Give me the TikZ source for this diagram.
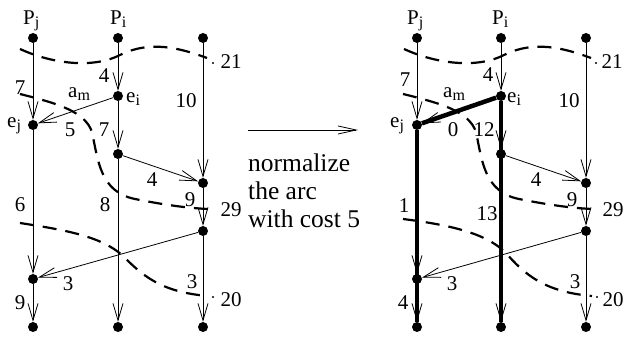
\documentclass[tikz,border=0pt]{standalone}
\usepackage{fontspec}
\setmainfont{Liberation Serif}
\usetikzlibrary{arrows.meta}
\newcommand{\evsub}[1]{\raisebox{-3pt}{\fontsize{16}{16}\selectfont #1}}

\begin{document}
\begin{tikzpicture}[x=1pt, y=-1pt,
  evt/.style={circle, fill, inner sep=0pt, minimum size=10pt},
  cutdot/.style={circle, fill, inner sep=0pt, minimum size=2.2pt},
  lbl/.style={inner sep=0pt, font=\fontsize{21}{21}\selectfont},
  evlbl/.style={lbl, anchor=base west},
  msg/.style={line width=0.8pt, line join=miter,
              -{Straight Barb[length=17pt,width=10pt]}},
  cut/.style={line width=2.2pt, dash pattern=on 14pt off 9pt},
  heavy/.style={line width=4.5pt}
]
  \useasboundingbox (0,0) rectangle (624,339);

  % left: before normalizing
  \draw[cut] (20,49) .. controls (55,65) and (95,68) .. (120,55)
    .. controls (150,40) and (180,48) .. (207,58);
  \draw[cut] (20,94) .. controls (60,104) and (85,112) .. (92,132)
    .. controls (98,160) and (100,192) .. (135,199)
    .. controls (160,204) and (185,208) .. (208,209);
  \draw[cut] (20,223) .. controls (65,230) and (100,236) .. (122,255)
    .. controls (142,275) and (160,292) .. (208,296);
  \node[cutdot] (Lk1) at (213,63) {};
  \node[cutdot] (Lk2) at (213,297) {};

  \node[evt] (Lt1) at (33,38) {};
  \node[evt] (Lt2) at (118,38) {};
  \node[evt] (Lt3) at (203,38) {};
  \node[evt] (Lej) at (33,125) {};
  \node[evt] (Lei) at (118,96) {};
  \node[evt] (Lb) at (118,154) {};
  \node[evt] (Lc) at (203,183) {};
  \node[evt] (Ld) at (203,231) {};
  \node[evt] (Le) at (33,279) {};
  \node[evt] (Lz1) at (33,327) {};
  \node[evt] (Lz2) at (118,327) {};
  \node[evt] (Lz3) at (203,327) {};

  \draw[msg] (Lt1) -- (Lej);
  \draw[msg] (Lej) -- (Le);
  \draw[msg] (Le) -- (Lz1);
  \draw[msg] (Lt2) -- (Lei);
  \draw[msg] (Lei) -- (Lb);
  \draw[msg] (Lb) -- (Lz2);
  \draw[msg] (Lt3) -- (Lc);
  \draw[msg] (Lc) -- (Ld);
  \draw[msg] (Ld) -- (Lz3);
  \draw[msg] (Lei) -- (Lej);
  \draw[msg] (Lb) -- (Lc);
  \draw[msg] (Ld) -- (Le);

  \node[evlbl] (LPj) at (23,25) {P\evsub{j}};
  \node[evlbl] (LPi) at (110,25) {P\evsub{i}};
  \node[evlbl] (Lnei) at (126,103) {e\evsub{i}};
  \node[evlbl] (Lnej) at (7,128) {e\evsub{j}};
  \node[evlbl] (Lam) at (68,98) {a\evsub{m}};
  \node[lbl] (Lw1) at (20,88) {7};
  \node[lbl] (Lw2) at (104,76) {4};
  \node[lbl] (Lw3) at (186,101) {10};
  \node[lbl] (Lw4) at (70,130) {5};
  \node[lbl] (Lw5) at (104,130) {7};
  \node[lbl] (Lw6) at (152,180) {4};
  \node[lbl] (Lw7) at (190,200) {9};
  \node[lbl] (Lw8) at (20,205) {6};
  \node[lbl] (Lw9) at (105,205) {8};
  \node[lbl] (Lw10) at (68,284) {3};
  \node[lbl] (Lw11) at (192,282) {3};
  \node[lbl] (Lw12) at (20,303) {9};
  \node[lbl] (Lcut1) at (231,62) {21};
  \node[lbl] (Lcut2) at (231,210) {29};
  \node[lbl] (Lcut3) at (231,300) {20};

  % middle
  \coordinate (Mfrom) at (248,130);
  \coordinate (Mto) at (358,130);
  \draw[line width=0.8pt, -{Straight Barb[length=18pt,width=8pt]}] (Mfrom) -- (Mto);
  \node[anchor=base west, align=left, inner sep=0pt,
        font=\fontsize{25.5}{28}\selectfont] (Mnote) at (248,228)
    {normalize\\the arc\\with cost 5};

  % right: after normalizing
  \draw[cut] (404,49) .. controls (439,65) and (479,68) .. (504,55)
    .. controls (534,40) and (564,48) .. (591,58);
  \draw[cut] (403,94) .. controls (444,104) and (469,112) .. (476,132)
    .. controls (482,160) and (484,192) .. (519,199)
    .. controls (544,204) and (569,208) .. (592,209);
  \draw[cut] (403,219) .. controls (450,225) and (485,233) .. (505,252)
    .. controls (525,275) and (545,292) .. (592,296);
  \node[cutdot] (Rk1) at (596,63) {};
  \node[cutdot] (Rk2) at (597,297) {};

  \node[evt] (Rt1) at (417,38) {};
  \node[evt] (Rt2) at (501,38) {};
  \node[evt] (Rt3) at (586,38) {};
  \node[evt] (Rej) at (417,125) {};
  \node[evt] (Rei) at (501,96) {};
  \node[evt] (Rb) at (501,154) {};
  \node[evt] (Rc) at (586,183) {};
  \node[evt] (Rd) at (586,231) {};
  \node[evt] (Re) at (417,279) {};
  \node[evt] (Rz1) at (417,327) {};
  \node[evt] (Rz2) at (501,327) {};
  \node[evt] (Rz3) at (586,327) {};

  \draw[msg] (Rt1) -- (Rej);
  \draw[msg] (Rej) -- (Re);
  \draw[msg] (Re) -- (Rz1);
  \draw[msg] (Rt2) -- (Rei);
  \draw[msg] (Rei) -- (Rb);
  \draw[msg] (Rb) -- (Rz2);
  \draw[msg] (Rt3) -- (Rc);
  \draw[msg] (Rc) -- (Rd);
  \draw[msg] (Rd) -- (Rz3);
  \draw[msg] (Rei) -- (Rej);
  \draw[msg] (Rb) -- (Rc);
  \draw[msg] (Rd) -- (Re);
  \draw[heavy] (Rei) -- (Rej);
  \draw[heavy] (Rej) -- (Rz1);
  \draw[heavy] (Rei) -- (Rz2);

  \node[evlbl] (RPj) at (407,25) {P\evsub{j}};
  \node[evlbl] (RPi) at (492,25) {P\evsub{i}};
  \node[evlbl] (Rnei) at (507,103) {e\evsub{i}};
  \node[evlbl] (Rnej) at (390,128) {e\evsub{j}};
  \node[evlbl] (Ram) at (443,98) {a\evsub{m}};
  \node[lbl] (Rw1) at (405,80) {7};
  \node[lbl] (Rw2) at (488,75) {4};
  \node[lbl] (Rw3) at (569,101) {10};
  \node[lbl] (Rw4) at (453,130) {0};
  \node[lbl] (Rw5) at (484,130) {12};
  \node[lbl] (Rw6) at (536,180) {4};
  \node[lbl] (Rw7) at (572,200) {9};
  \node[lbl] (Rw8) at (404,206) {1};
  \node[lbl] (Rw9) at (487,214) {13};
  \node[lbl] (Rw10) at (452,284) {3};
  \node[lbl] (Rw11) at (575,282) {3};
  \node[lbl] (Rw12) at (403,303) {4};
  \node[lbl] (Rcut1) at (612,62) {21};
  \node[lbl] (Rcut2) at (613,210) {29};
  \node[lbl] (Rcut3) at (613,300) {20};
\end{tikzpicture}
\end{document}
